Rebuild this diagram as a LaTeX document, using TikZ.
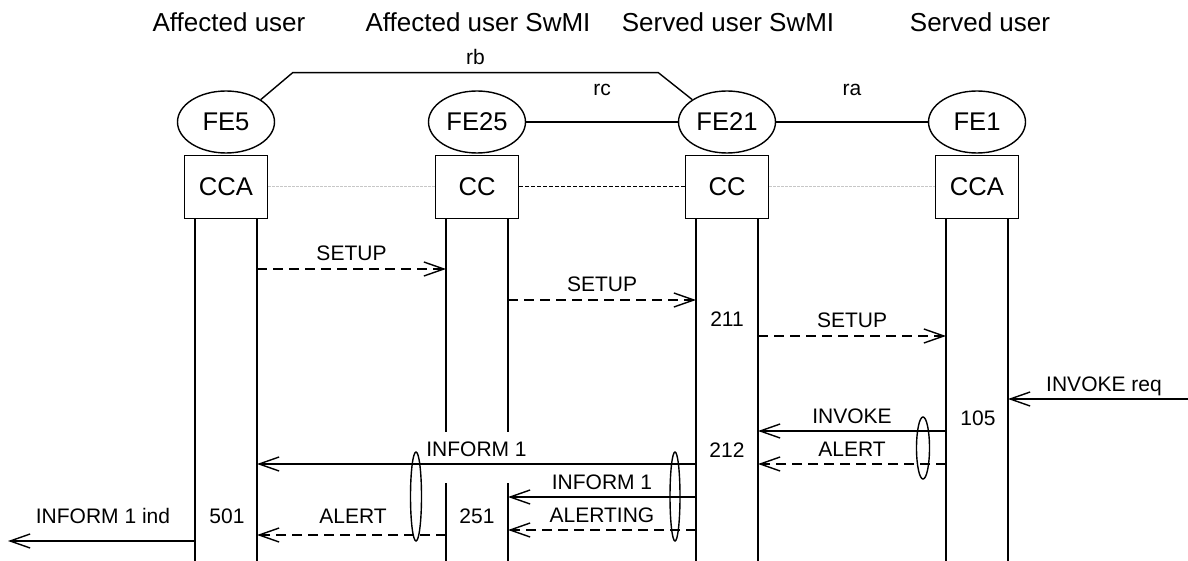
\documentclass[tikz,border=0pt]{standalone}
\usepackage{fontspec}
\setmainfont{Liberation Sans}
\usetikzlibrary{shapes}
\usetikzlibrary{positioning}
\usetikzlibrary{arrows.meta}
\tikzset{
    fenode/.style = {ellipse, draw=black, line width=0.7pt, inner sep=0pt, minimum width=48.5pt, minimum height=31pt, font=\fontsize{12.8}{14}\selectfont},
    ccnode/.style = {rectangle, draw=black, line width=0.7pt, inner sep=0pt, minimum width=41.5pt, minimum height=31.5pt, font=\fontsize{12.8}{14}\selectfont},
    titlenode/.style = {anchor=base, inner sep=0pt, font=\fontsize{13}{15}\selectfont},
    msgtext/.style = {anchor=base, inner sep=0pt, font=\fontsize{10.5}{12}\selectfont},
    lbl/.style = {msgtext, midway, yshift=4pt},
    ifacelbl/.style = {msgtext, midway, yshift=13pt},
    lifeline/.style = {-, line width=0.7pt, black},
    link/.style = {-, line width=0.7pt, black},
    linkg/.style = {-, line width=0.6pt, black!22, dash pattern=on 1.5pt off 0.5pt}, % CCA - CC
    linkd/.style = {-, line width=0.5pt, black, dash pattern=on 2pt off 1pt}, % CC - CC
    msgs/.style = {-{Straight Barb[length=10pt,width=7pt]}, line width=0.7pt, black},
    msgd/.style = {msgs, dash pattern=on 5pt off 3pt},
    grp/.style = {ellipse, draw=black, line width=0.7pt, inner sep=0pt}
}

\begin{document}
\begin{tikzpicture}[x=0.5pt, y=-0.5pt]
  \useasboundingbox (0,0) rectangle (1188,561);

  \node[titlenode] (t5) at (229,32) {Affected user};
  \node[titlenode] (t25) at (478,32) {Affected user SwMI};
  \node[titlenode] (t21) at (728,32) {Served user SwMI};
  \node[titlenode] (t1) at (980,32) {Served user};

  \node[fenode] (fe5) at (226,122) {FE5};
  \node[fenode] (fe25) at (477,122) {FE25};
  \node[fenode] (fe21) at (727,122) {FE21};
  \node[fenode] (fe1) at (977,122) {FE1};

  \node[ccnode, below=0.5pt of fe5] (cca5) {CCA};
  \node[ccnode, below=0.5pt of fe25] (cc25) {CC};
  \node[ccnode, below=0.5pt of fe21] (cc21) {CC};
  \node[ccnode, below=0.5pt of fe1] (cca1) {CCA};

  % interfaces
  \draw[link] (fe5.north east) -- ([shift={(32,-27)}]fe5.north east)
    -- node[lbl] {rb} ([shift={(-34,-27)}]fe21.north west) -- (fe21.north west);
  \draw[link] (fe25.east) -- node[ifacelbl] {rc} (fe21.west);
  \draw[link] (fe21.east) -- node[ifacelbl] {ra} (fe1.west);

  \draw[linkg] (cca5.east) -- (cc25.west);
  \draw[linkd] (cc25.east) -- (cc21.west);
  \draw[linkg] (cc21.east) -- (cca1.west);

  % lifelines
  \foreach \b/\n in {cca5/5, cc25/25, cc21/21, cca1/1} {
    \coordinate (l\n a) at ([shift={(-31,0)}]\b.south);
    \coordinate (l\n b) at ([shift={(31,0)}]\b.south);
  }
  \foreach \n in {5, 21, 1} {
    \draw[lifeline] (l\n a) -- (l\n a |- 0,561);
    \draw[lifeline] (l\n b) -- (l\n b |- 0,561);
  }
  \draw[lifeline] (l25a) -- (l25a |- 0,432);
  \draw[lifeline] (l25b) -- (l25b |- 0,432);
  \draw[lifeline] (l25a |- 0,483) -- (l25a |- 0,561);
  \draw[lifeline] (l25b |- 0,483) -- (l25b |- 0,561);

  % messages
  \draw[msgd] (l5b |- 0,269) -- node[lbl] {SETUP} (l25a |- 0,269);
  \draw[msgd] (l25b |- 0,300) -- node[lbl] {SETUP} (l21a |- 0,300);
  \draw[msgd] (l21b |- 0,336) -- node[lbl] {SETUP} (l1a |- 0,336);
  \coordinate (invreq) at (1188,399);
  \draw[msgs] (invreq) -- node[lbl, xshift=3pt] {INVOKE req} (l1b |- invreq);
  \draw[msgs] (l1a |- 0,431) -- node[lbl] {INVOKE} (l21b |- 0,431);
  \draw[msgd] (l1a |- 0,464) -- node[lbl] {ALERT} (l21b |- 0,464);
  \draw[msgs] (l21a |- 0,464) -- node[lbl] {INFORM 1} (l5b |- 0,464);
  \draw[msgs] (l21a |- 0,497) -- node[lbl] {INFORM 1} (l25b |- 0,497);
  \draw[msgd] (l21a |- 0,530) -- node[lbl] {ALERTING} (l25b |- 0,530);
  \draw[msgd] (l25a |- 0,535) -- (l5b |- 0,535);
  \coordinate (indend) at (8,541);
  \draw[msgs] (l5a |- indend) -- (indend);

  \node[msgtext] (alert5) at (353,523) {ALERT};
  \node[msgtext] (ind5) at (103,523) {INFORM 1 ind};

  % states
  \node[msgtext] (s211) at (727,326.5) {211};
  \node[msgtext] (s212) at (727,457) {212};
  \node[msgtext] (s105) at (978,425) {105};
  \node[msgtext] (s501) at (227,523) {501};
  \node[msgtext] (s251) at (477,523) {251};

  % grouped messages
  \node[grp, minimum width=6.5pt, minimum height=31pt] (g1) at (923,448) {};
  \node[grp, minimum width=5pt, minimum height=44.5pt] (g21) at (675,496.5) {};
  \node[grp, minimum width=5.5pt, minimum height=44.5pt] (g25) at (416,496.5) {};
\end{tikzpicture}
\end{document}
